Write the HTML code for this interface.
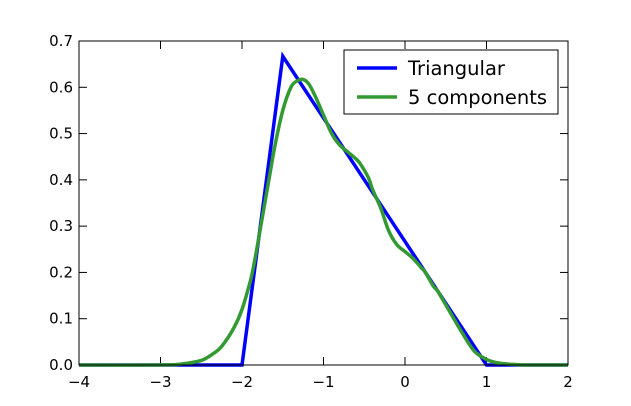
<!DOCTYPE html>
<html><head><meta charset="utf-8"><style>body{margin:0;background:#fff}svg{display:block}text{font-family:"DejaVu Sans","Liberation Sans",sans-serif}</style></head>
<body>
<svg id="chart" width="631" height="406">
<rect x="0" y="0" width="631" height="406" fill="#fff"/>
<g id="ticks"></g>
<g id="series"></g>
<rect x="79" y="41" width="489" height="324" fill="none" stroke="#000" stroke-width="1"/>
<g>
<rect x="344" y="50" width="214" height="64" fill="#fff" stroke="#000" stroke-width="1"/>
<line x1="357" y1="68" x2="397" y2="68" stroke="#0000ff" stroke-width="3.5"/>
<text x="408" y="75" font-size="19.5">Triangular</text>
<line x1="357" y1="97" x2="397" y2="97" stroke="#339933" stroke-width="3.5"/>
<text x="408" y="104" font-size="19.5">5 components</text>
</g>
</svg>
<script>
const xTicks=[-4,-3,-2,-1,0,1,2];
const xTickLabels=["\u22124","\u22123","\u22122","\u22121","0","1","2"];
const yTicks=[0,0.1,0.2,0.3,0.4,0.5,0.6,0.7];
const yTickLabels=["0.0","0.1","0.2","0.3","0.4","0.5","0.6","0.7"];
const triX=[-4,-2,-1.5,1,2];
const triY=[0,0,0.667,0,0];
const mixX=[-4,-3,-2.75,-2.5,-2.35,-2.25,-2.1,-2,-1.9,-1.85,-1.75,-1.65,-1.6,-1.5,-1.4,-1.32,-1.25,-1.18,-1.1,-1.0,-0.9,-0.8,-0.7,-0.6,-0.55,-0.45,-0.4,-0.3,-0.2,-0.1,0,0.1,0.2,0.25,0.35,0.4,0.5,0.6,0.7,0.85,1.0,1.1,1.2,1.35,1.5,2];
const mixY=[0,0,0.002,0.01,0.025,0.04,0.08,0.12,0.18,0.22,0.32,0.42,0.47,0.55,0.6,0.614,0.617,0.607,0.58,0.54,0.5,0.475,0.46,0.445,0.435,0.405,0.38,0.34,0.29,0.26,0.245,0.23,0.21,0.2,0.17,0.16,0.13,0.1,0.07,0.03,0.012,0.006,0.003,0.001,0,0];
const NS="http://www.w3.org/2000/svg";
const L=79,R=568,T=41,B=365;
const sx=v=>L+(v-(-4))/6*(R-L);
const sy=v=>B-v/0.7*(B-T);
const tg=document.getElementById('ticks');
function mk(t,a,p){const e=document.createElementNS(NS,t);for(const k in a)e.setAttribute(k,a[k]);p.appendChild(e);return e;}
xTicks.forEach((v,i)=>{
 const x=sx(v);
 const t1=mk('line',{x1:x,y1:B,x2:x,y2:B-8,stroke:'#000'},tg);
 
 
 const t2=mk('line',{x1:x,y1:T,x2:x,y2:T+8,stroke:'#000'},tg);
 
 
 const tx=mk('text',{x:x,y:B+22,'font-size':15,'text-anchor':'middle'},tg);
 tx.textContent=xTickLabels[i];
 
 
});
yTicks.forEach((v,i)=>{
 const y=sy(v);
 const t1=mk('line',{x1:L,y1:y,x2:L+8,y2:y,stroke:'#000'},tg);
 
 
 const t2=mk('line',{x1:R,y1:y,x2:R-8,y2:y,stroke:'#000'},tg);
 
 
 const tx=mk('text',{x:L-6,y:y+5,'font-size':15,'text-anchor':'end'},tg);
 tx.textContent=yTickLabels[i];
 
 
});
const sg=document.getElementById('series');
function pts(xs,ys){return xs.map((x,i)=>sx(x).toFixed(1)+','+sy(ys[i]).toFixed(1)).join(' ');}
function smooth(xs,ys){
 const P=xs.map((x,i)=>[sx(x),sy(ys[i])]);
 let d='M'+P[0][0].toFixed(1)+','+P[0][1].toFixed(1);
 for(let i=0;i<P.length-1;i++){
  const p0=P[Math.max(i-1,0)],p1=P[i],p2=P[i+1],p3=P[Math.min(i+2,P.length-1)];
  const c1=[p1[0]+(p2[0]-p0[0])/6,p1[1]+(p2[1]-p0[1])/6];
  const c2=[p2[0]-(p3[0]-p1[0])/6,p2[1]-(p3[1]-p1[1])/6];
  d+=' C'+c1[0].toFixed(1)+','+c1[1].toFixed(1)+' '+c2[0].toFixed(1)+','+c2[1].toFixed(1)+' '+p2[0].toFixed(1)+','+p2[1].toFixed(1);
 }
 return d;
}
const p1=mk('polyline',{points:pts(triX,triY),fill:'none',stroke:'#0000ff','stroke-width':3.5,'stroke-linejoin':'miter'},sg);


const p2=mk('path',{d:smooth(mixX,mixY),fill:'none',stroke:'#339933','stroke-width':3.5,'stroke-linejoin':'round'},sg);


</script>
</body></html>
